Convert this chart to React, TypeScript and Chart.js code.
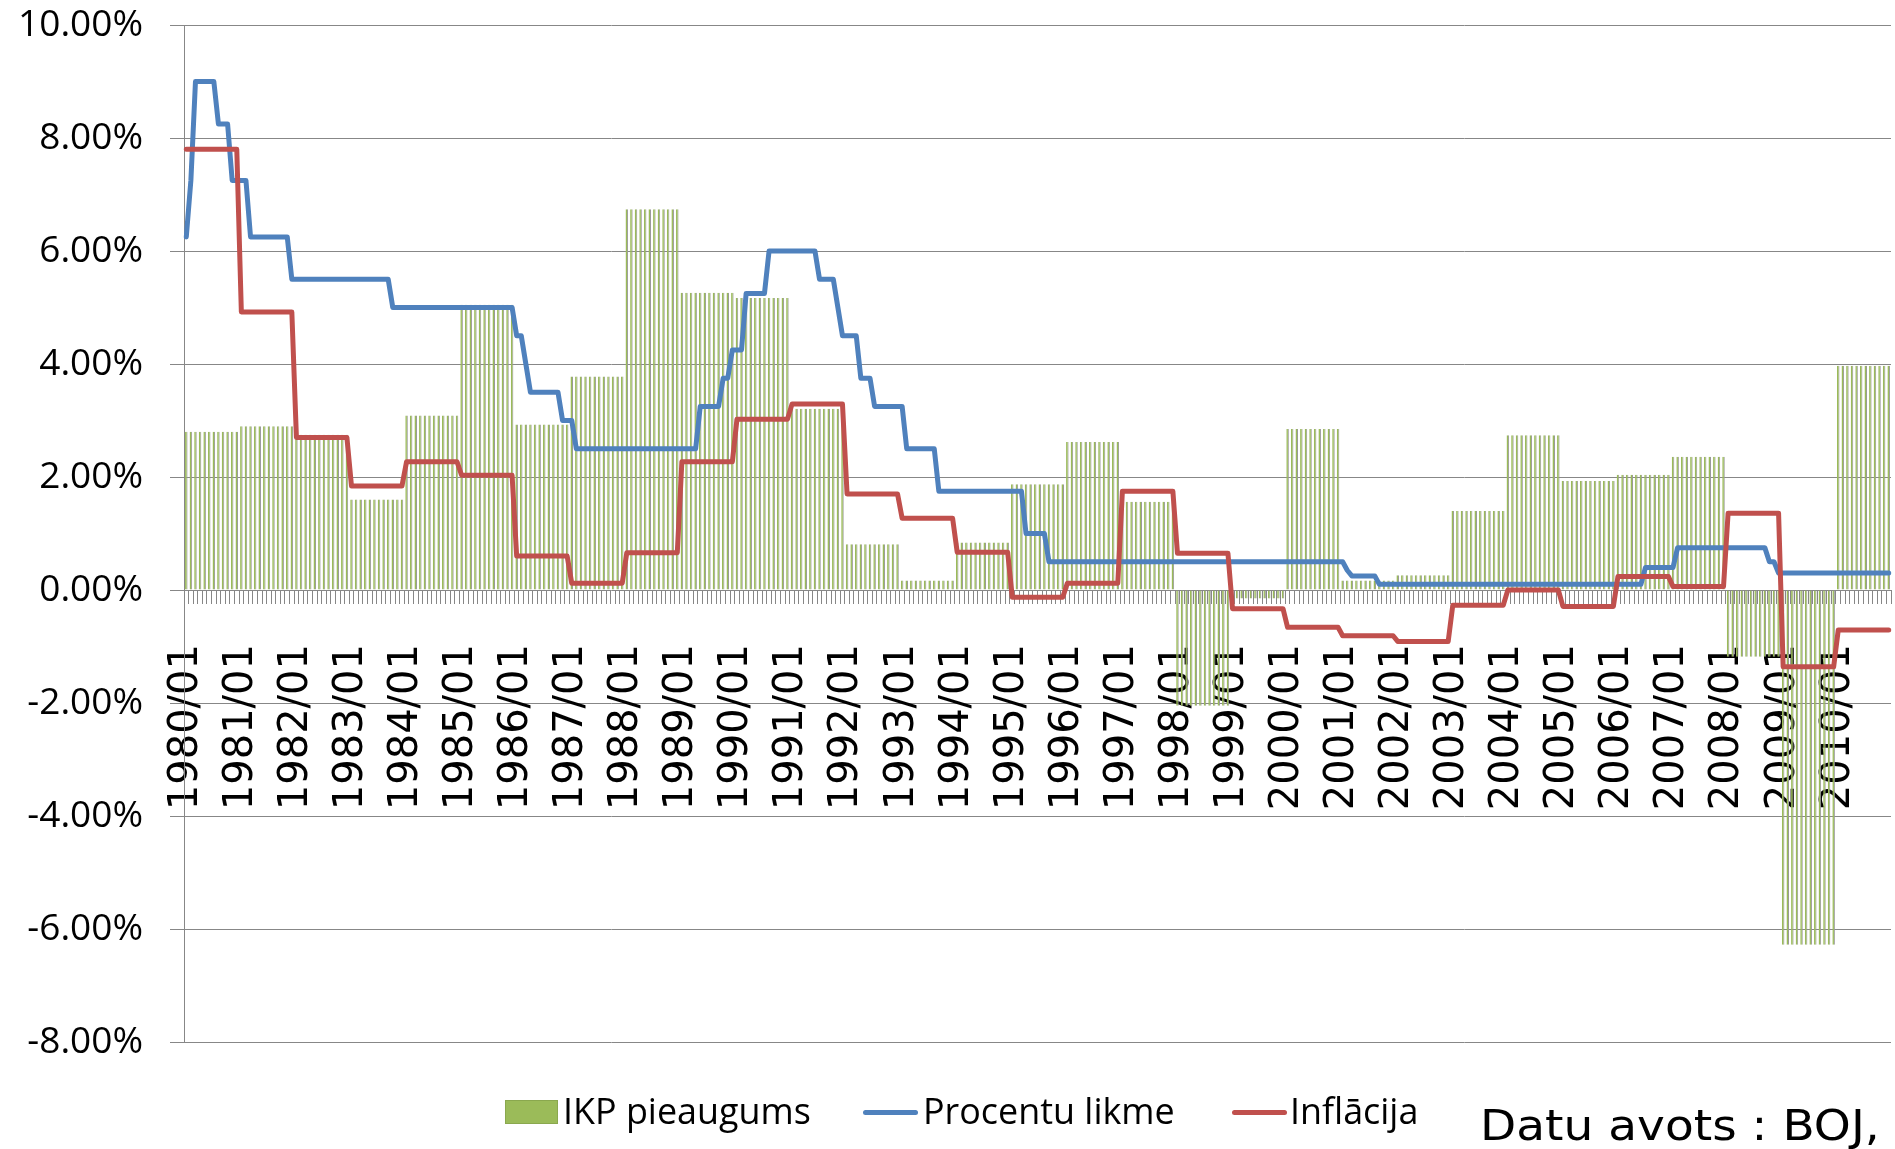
import React, { useEffect, useRef } from 'react';
import { Chart, registerables } from 'chart.js';

Chart.register(...registerables);

// ---- Data ----
const YEARS = [
  1980, 1981, 1982, 1983, 1984, 1985, 1986, 1987, 1988, 1989,
  1990, 1991, 1992, 1993, 1994, 1995, 1996, 1997, 1998, 1999,
  2000, 2001, 2002, 2003, 2004, 2005, 2006, 2007, 2008, 2009, 2010,
];
const MONTHS = ['01', '02', '03', '04', '05', '06', '07', '08', '09', '10', '11', '12'];

// IKP pieaugums (annual GDP growth, %)
const gdpGrowth = [
  2.80, 2.90, 2.75, 1.60, 3.09, 5.05, 2.93, 3.78, 6.74, 5.26,
  5.17, 3.21, 0.81, 0.17, 0.84, 1.87, 2.62, 1.56, -2.05, -0.15,
  2.85, 0.17, 0.26, 1.40, 2.74, 1.93, 2.04, 2.36, -1.18, -6.28, 3.97,
];

// Inflācija (annual CPI inflation, %)
const inflation = [
  7.80, 4.92, 2.70, 1.84, 2.27, 2.03, 0.60, 0.12, 0.66, 2.27,
  3.02, 3.29, 1.70, 1.27, 0.67, -0.13, 0.12, 1.75, 0.65, -0.33,
  -0.66, -0.81, -0.91, -0.27, 0.00, -0.29, 0.24, 0.06, 1.36, -1.36, -0.71,
];

// Procentu likme (monthly policy rate, %), one row per year
const policyRate = [
  [6.25, 7.25, 9.0, 9.0, 9.0, 9.0, 9.0, 8.25, 8.25, 8.25, 7.25, 7.25],
  [7.25, 7.25, 6.25, 6.25, 6.25, 6.25, 6.25, 6.25, 6.25, 6.25, 6.25, 5.5],
  [5.5, 5.5, 5.5, 5.5, 5.5, 5.5, 5.5, 5.5, 5.5, 5.5, 5.5, 5.5],
  [5.5, 5.5, 5.5, 5.5, 5.5, 5.5, 5.5, 5.5, 5.5, 5.0, 5.0, 5.0],
  [5.0, 5.0, 5.0, 5.0, 5.0, 5.0, 5.0, 5.0, 5.0, 5.0, 5.0, 5.0],
  [5.0, 5.0, 5.0, 5.0, 5.0, 5.0, 5.0, 5.0, 5.0, 5.0, 5.0, 5.0],
  [4.5, 4.5, 4.0, 3.5, 3.5, 3.5, 3.5, 3.5, 3.5, 3.5, 3.0, 3.0],
  [3.0, 2.5, 2.5, 2.5, 2.5, 2.5, 2.5, 2.5, 2.5, 2.5, 2.5, 2.5],
  [2.5, 2.5, 2.5, 2.5, 2.5, 2.5, 2.5, 2.5, 2.5, 2.5, 2.5, 2.5],
  [2.5, 2.5, 2.5, 2.5, 3.25, 3.25, 3.25, 3.25, 3.25, 3.75, 3.75, 4.25],
  [4.25, 4.25, 5.25, 5.25, 5.25, 5.25, 5.25, 6.0, 6.0, 6.0, 6.0, 6.0],
  [6.0, 6.0, 6.0, 6.0, 6.0, 6.0, 5.5, 5.5, 5.5, 5.5, 5.0, 4.5],
  [4.5, 4.5, 4.5, 3.75, 3.75, 3.75, 3.25, 3.25, 3.25, 3.25, 3.25, 3.25],
  [3.25, 2.5, 2.5, 2.5, 2.5, 2.5, 2.5, 2.5, 1.75, 1.75, 1.75, 1.75],
  [1.75, 1.75, 1.75, 1.75, 1.75, 1.75, 1.75, 1.75, 1.75, 1.75, 1.75, 1.75],
  [1.75, 1.75, 1.75, 1.0, 1.0, 1.0, 1.0, 1.0, 0.5, 0.5, 0.5, 0.5],
  [0.5, 0.5, 0.5, 0.5, 0.5, 0.5, 0.5, 0.5, 0.5, 0.5, 0.5, 0.5],
  [0.5, 0.5, 0.5, 0.5, 0.5, 0.5, 0.5, 0.5, 0.5, 0.5, 0.5, 0.5],
  [0.5, 0.5, 0.5, 0.5, 0.5, 0.5, 0.5, 0.5, 0.5, 0.5, 0.5, 0.5],
  [0.5, 0.5, 0.5, 0.5, 0.5, 0.5, 0.5, 0.5, 0.5, 0.5, 0.5, 0.5],
  [0.5, 0.5, 0.5, 0.5, 0.5, 0.5, 0.5, 0.5, 0.5, 0.5, 0.5, 0.5],
  [0.5, 0.35, 0.25, 0.25, 0.25, 0.25, 0.25, 0.25, 0.1, 0.1, 0.1, 0.1],
  [0.1, 0.1, 0.1, 0.1, 0.1, 0.1, 0.1, 0.1, 0.1, 0.1, 0.1, 0.1],
  [0.1, 0.1, 0.1, 0.1, 0.1, 0.1, 0.1, 0.1, 0.1, 0.1, 0.1, 0.1],
  [0.1, 0.1, 0.1, 0.1, 0.1, 0.1, 0.1, 0.1, 0.1, 0.1, 0.1, 0.1],
  [0.1, 0.1, 0.1, 0.1, 0.1, 0.1, 0.1, 0.1, 0.1, 0.1, 0.1, 0.1],
  [0.1, 0.1, 0.1, 0.1, 0.1, 0.1, 0.4, 0.4, 0.4, 0.4, 0.4, 0.4],
  [0.4, 0.75, 0.75, 0.75, 0.75, 0.75, 0.75, 0.75, 0.75, 0.75, 0.75, 0.75],
  [0.75, 0.75, 0.75, 0.75, 0.75, 0.75, 0.75, 0.75, 0.75, 0.5, 0.5, 0.3],
  [0.3, 0.3, 0.3, 0.3, 0.3, 0.3, 0.3, 0.3, 0.3, 0.3, 0.3, 0.3],
  [0.3, 0.3, 0.3, 0.3, 0.3, 0.3, 0.3, 0.3, 0.3, 0.3, 0.3, 0.3],
];

const Y_MIN = -8;
const Y_MAX = 10;
const Y_STEP = 2;

const seriesNames = ['IKP pieaugums', 'Procentu likme', 'Inflācija'];
const sourceText = 'Datu avots : BOJ,';

// ---- Derived tables ----
const categories = YEARS.flatMap((y) => MONTHS.map((m) => `${y}/${m}`));
const gdpMonthly = categories.map((_, i) => gdpGrowth[Math.floor(i / 12)]);
const inflationMonthly = categories.map((_, i) => inflation[Math.floor(i / 12)]);
const rateMonthly = policyRate.flat();

const GREEN = '#9BBB59';
const BLUE = '#4F81BD';
const RED = '#C0504D';
const GRID = '#878787';

export default function App() {
  const ref = useRef<HTMLCanvasElement | null>(null);

  useEffect(() => {
    if (!ref.current) return;
    const chart = new Chart(ref.current, {
      type: 'bar',
      data: {
        labels: categories,
        datasets: [
          {
            type: 'line',
            label: seriesNames[2],
            data: inflationMonthly,
            borderColor: RED,
            backgroundColor: RED,
            borderWidth: 5,
            pointRadius: 0,
            tension: 0,
            borderJoinStyle: 'round',
            borderCapStyle: 'round',
            order: 0,
          } as any,
          {
            type: 'line',
            label: seriesNames[1],
            data: rateMonthly,
            borderColor: BLUE,
            backgroundColor: BLUE,
            borderWidth: 5,
            pointRadius: 0,
            tension: 0,
            borderJoinStyle: 'round',
            borderCapStyle: 'round',
            order: 1,
          } as any,
          {
            type: 'bar',
            label: seriesNames[0],
            data: gdpMonthly,
            backgroundColor: GREEN,
            borderColor: '#9a9a9a',
            borderWidth: { left: 0, right: 1, top: 0, bottom: 0 },
            borderSkipped: false,
            barPercentage: 0.55,
            categoryPercentage: 1,
            order: 2,
          } as any,
        ],
      },
      options: {
        animation: false,
        responsive: false,
        devicePixelRatio: 1,
        layout: { padding: { left: 0, right: 4, top: 25, bottom: 107 } },
        plugins: { legend: { display: false }, tooltip: { enabled: false } },
        scales: {
          x: {
            position: { y: 0 } as any,
            offset: true,
            grid: {
              drawOnChartArea: false,
              drawTicks: true,
              tickLength: 14,
              color: GRID,
              lineWidth: 1,
              offset: true,
            },
            border: { display: false },
            ticks: {
              autoSkip: false,
              maxRotation: 90,
              minRotation: 90,
              padding: 40,
              color: '#000',
              font: {
                family: "'DejaVu Sans', sans-serif",
                size: 40,
              },
              callback: (_v: any, i: number) => (categories[i].endsWith('/01') ? categories[i] : ''),
            },
            afterFit: (s: any) => {
              s.height = 0;
              s.paddingLeft = 0;
              s.paddingRight = 0;
              s.paddingTop = 0;
              s.paddingBottom = 0;
            },
          } as any,
          y: {
            min: Y_MIN,
            max: Y_MAX,
            ticks: {
              stepSize: Y_STEP,
              padding: 27,
              color: '#000',
              font: { family: "'Open Sans', sans-serif", size: 37 },
              callback: (v: any) => Number(v).toFixed(2) + '%',
            },
            grid: { color: GRID, lineWidth: 1, tickLength: 14, drawTicks: true },
            border: { display: true, color: GRID, width: 1 },
            afterFit: (s: any) => {
              s.width = 184;
              s.paddingTop = 0;
              s.paddingBottom = 0;
            },
          } as any,
        },
      },
    });
    return () => chart.destroy();
  }, []);

  const legendText: React.CSSProperties = {
    position: 'absolute',
    top: 1091,
    fontFamily: "'Open Sans', sans-serif",
    fontSize: 37,
    lineHeight: 1,
    color: '#000',
    whiteSpace: 'nowrap',
    transform: 'scaleX(0.97)',
    transformOrigin: 'left top',
  };
  const lineKey = (left: number, color: string): React.CSSProperties => ({
    position: 'absolute',
    left,
    top: 1110,
    width: 55,
    height: 5,
    borderRadius: 3,
    background: color,
  });

  return (
    <div
      style={{
        position: 'fixed',
        left: 0,
        top: 0,
        width: 1895,
        height: 1149,
        background: '#fff',
        overflow: 'hidden',
      }}
    >
      <canvas ref={ref} width={1895} height={1149} style={{ display: 'block', width: 1895, height: 1149 }} />
      <div style={{ position: 'absolute', left: 505, top: 1100, width: 53, height: 24, background: GREEN, boxSizing: 'border-box', border: '1px solid #8aa84e' }} />
      <div style={{ ...legendText, left: 563 }}>{seriesNames[0]}</div>
      <div style={lineKey(863, BLUE)} />
      <div style={{ ...legendText, left: 923 }}>{seriesNames[1]}</div>
      <div style={lineKey(1232, RED)} />
      <div style={{ ...legendText, left: 1290 }}>{seriesNames[2]}</div>
      <div
        style={{
          position: 'absolute',
          left: 1480,
          top: 1105,
          fontFamily: "'DejaVu Sans', sans-serif",
          fontSize: 42,
          lineHeight: 1,
          color: '#000',
          whiteSpace: 'nowrap',
          transform: 'scaleX(1.12)',
          transformOrigin: 'left top',
        }}
      >
        {sourceText}
      </div>
    </div>
  );
}
